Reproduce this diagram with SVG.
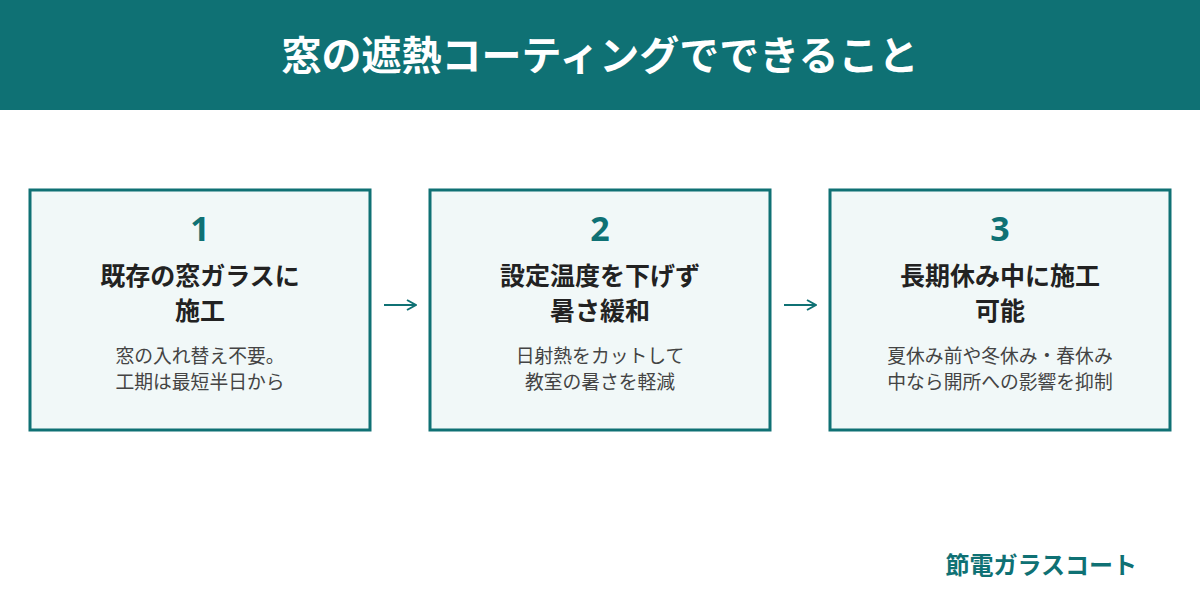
<svg xmlns="http://www.w3.org/2000/svg" width="1200" height="600" viewBox="0 0 1200 600">
<defs>
<style>
text{font-family:"Noto Sans CJK JP","Noto Sans",sans-serif;text-anchor:middle}
.title{font-size:40px;font-weight:700;fill:#ffffff}
.box{fill:#F1F8F8;stroke:#0F7174;stroke-width:3}
.num{font-size:34px;font-weight:700;fill:#0F7174;font-family:"Noto Sans","Noto Sans CJK JP",sans-serif}
.head{font-size:25px;font-weight:700;fill:#222222}
.desc{font-size:18.8px;fill:#444444}
.conn{fill:none;stroke:#0F7174;stroke-width:2}
.foot{font-size:24px;font-weight:700;fill:#0F7174;text-anchor:end}
</style>
<marker id="arr" viewBox="0 0 12 12" refX="11" refY="6" markerWidth="12" markerHeight="12" markerUnits="userSpaceOnUse" orient="auto">
<path d="M2,1 L11,6 L2,11" fill="none" stroke="#0F7174" stroke-width="2"/>
</marker>
</defs>
<rect x="0" y="0" width="1200" height="600" fill="#ffffff"/>
<g id="header">
<rect x="0" y="0" width="1200" height="110" fill="#0F7174"/>
<text class="title" x="600" y="70">窓の遮熱コーティングでできること</text>
</g>
<g id="node1">
<rect class="box" x="30" y="190" width="340" height="240"/>
<text class="num" x="200" y="241">1</text>
<text class="head" x="200" y="285">既存の窓ガラスに</text>
<text class="head" x="200" y="320">施工</text>
<text class="desc" x="200" y="363">窓の入れ替え不要。</text>
<text class="desc" x="200" y="389">工期は最短半日から</text>
</g>
<g id="node2">
<rect class="box" x="430" y="190" width="340" height="240"/>
<text class="num" x="600" y="241">2</text>
<text class="head" x="600" y="285">設定温度を下げず</text>
<text class="head" x="600" y="320">暑さ緩和</text>
<text class="desc" x="600" y="363">日射熱をカットして</text>
<text class="desc" x="600" y="389">教室の暑さを軽減</text>
</g>
<g id="node3">
<rect class="box" x="830" y="190" width="340" height="240"/>
<text class="num" x="1000" y="241">3</text>
<text class="head" x="1000" y="285">長期休み中に施工</text>
<text class="head" x="1000" y="320">可能</text>
<text class="desc" x="1000" y="363">夏休み前や冬休み・春休み</text>
<text class="desc" x="1000" y="389">中なら開所への影響を抑制</text>
</g>
<g id="connectors">
<path class="conn" d="M384,305 L416,305" marker-end="url(#arr)"/>
<path class="conn" d="M784,305 L816,305" marker-end="url(#arr)"/>
</g>
<g id="footer">
<text class="foot" x="1137" y="574">節電ガラスコート</text>
</g>
</svg>
